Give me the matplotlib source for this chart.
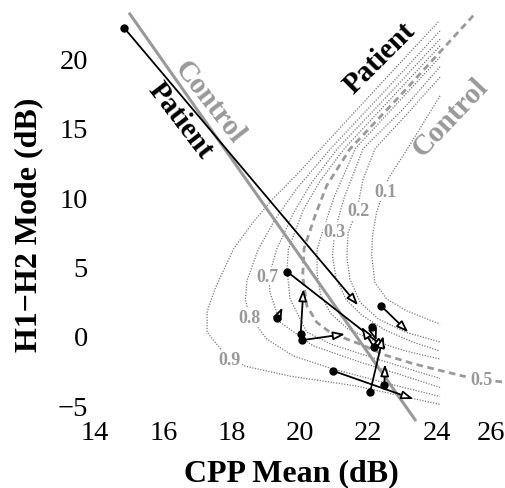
import matplotlib.pyplot as plt
import numpy as np

plt.rcParams['font.family'] = ['Liberation Serif', 'DejaVu Serif']

xTicks = [14, 16, 18, 20, 22, 24, 26]
yTicks = [-5, 0, 5, 10, 15, 20]

# probability contours (CPP mean, H1-H2 mode)
p1_cpp = [24.1, 23.65, 23.2, 22.58, 22.24, 22.12, 22.1, 22.19, 22.54, 23.12, 24.1]
p1_h12 = [17.3, 15.5, 13.7, 11.3, 8.9, 7.2, 5.77, 3.85, 2.65, 1.8, 0.84]
p2_cpp = [24.1, 23.1, 22.2, 21.85, 21.66, 21.41, 21.37, 21.46, 21.76, 22.3, 23.1, 24.1]
p2_h12 = [18.65, 15.9, 13.5, 11.3, 9.0, 7.45, 5.77, 4.09, 2.41, 1.2, 0.25, -0.45]
p3_cpp = [24.1, 23.0, 21.85, 21.3, 21.02, 20.95, 21.05, 21.35, 21.8, 22.5, 23.3, 24.1]
p3_h12 = [19.4, 16.3, 13.5, 10.0, 7.55, 5.77, 4.2, 2.6, 1.5, 0.4, -0.45, -1.1]
p4_cpp = [24.1, 22.9, 21.62, 21.0, 20.7, 20.5, 20.5, 20.6, 20.9, 21.4, 22.2, 23.1, 24.1]
p4_h12 = [20.1, 16.9, 13.5, 10.0, 7.8, 6.24, 4.5, 3.0, 1.6, 0.5, -0.4, -1.1, -1.68]
p5_cpp = [25.07, 22.93, 21.46, 20.78, 20.44, 20.12, 20.08, 20.2, 20.49, 20.88, 21.37, 21.76,
          22.5, 23.3, 24.1, 24.85]
p5_h12 = [23.08, 17.31, 13.46, 10.82, 8.65, 6.3, 4.3, 2.16, 0.97, 0.25, -0.24, -0.6,
          -1.4, -2.0, -2.5, -2.95]
p5_tail_cpp = [25.72, 25.95]
p5_tail_h12 = [-3.27, -3.33]
p6_cpp = [24.1, 22.7, 21.3, 20.6, 20.1, 19.66, 19.62, 19.71, 20.2, 20.9, 21.9, 23.0, 24.1]
p6_h12 = [20.9, 17.2, 13.5, 11.2, 9.1, 6.24, 4.81, 2.65, 0.27, -0.6, -1.4, -2.25, -3.08]
p7_cpp = [24.1, 22.6, 21.1, 20.3, 19.8, 19.32, 19.09, 19.12, 19.41, 20.38, 21.76, 23.0, 24.1]
p7_h12 = [21.39, 17.4, 13.5, 10.9, 8.8, 6.24, 4.3, 3.15, 0.99, -0.72, -1.9, -2.85, -3.73]
p8_cpp = [24.1, 22.5, 20.9, 19.9, 19.25, 18.78, 18.45, 18.4, 18.54, 19.03, 19.8, 20.97, 22.5, 24.1]
p8_h12 = [21.99, 17.7, 13.5, 10.6, 8.3, 6.24, 4.0, 2.6, 1.35, -0.24, -1.45, -2.4, -3.4, -4.38]
p9_cpp = [24.05, 22.0, 19.9, 19.2, 18.6, 18.05, 17.51, 17.28, 17.28, 17.75, 18.39, 19.71, 21.67, 24.1]
p9_h12 = [22.64, 17.2, 11.6, 9.86, 8.1, 6.24, 3.37, 1.71, 0.27, -1.18, -2.19, -2.91, -3.63, -4.95]

labelText = ["0.1", "0.2", "0.3", "0.7", "0.8", "0.9", "0.5"]
labelCpp = [22.49, 21.7, 21.02, 19.06, 18.52, 17.95, 25.3]
labelH12 = [10.4, 9.0, 7.55, 4.3, 1.35, -1.7, -3.12]

# linear boundary
control_cpp = [15.02, 23.37]
control_h12 = [23.2, -6.06]

# patient change arrows: start -> end
startCpp = [14.86, 19.63, 19.34, 20.02, 20.07, 22.37, 22.11, 22.17, 22.05, 22.47, 20.96]
startH12 = [22.18, 4.61, 1.28, 0.12, -0.31, 2.16, 0.61, -0.84, -4.08, -3.55, -2.52]
endCpp = [21.7, 22.53, 19.49, 20.10, 21.32, 23.17, 22.24, 21.80, 22.44, 22.49, 23.32]
endH12 = [2.2, -0.96, 2.05, 3.37, 0.12, 0.25, -0.38, 0.65, 0.0, -2.04, -4.56]

fig = plt.figure(figsize=(5.06, 4.89), dpi=100)
ax = fig.add_axes([95 / 506, 69 / 489, 411 / 506, 415 / 489])
ax.set_xlim(14, 26.03)
ax.set_ylim(-6.0, 23.92)

dotted = dict(color="#7a7a7a", lw=0.9, ls=(0, (1, 1.2)), clip_on=False)
for cx, cy in [(p1_cpp, p1_h12), (p2_cpp, p2_h12), (p3_cpp, p3_h12), (p4_cpp, p4_h12),
               (p6_cpp, p6_h12), (p7_cpp, p7_h12), (p8_cpp, p8_h12), (p9_cpp, p9_h12)]:
    ax.plot(cx, cy, **dotted)

dashed = dict(color="#9a9a9a", lw=2.0, ls=(0, (2.4, 1.6)), clip_on=False)
ax.plot(p5_cpp, p5_h12, **dashed)
ax.plot(p5_tail_cpp, p5_tail_h12, **dashed)

for t, x, y in zip(labelText, labelCpp, labelH12):
    ax.text(x, y, t, color="#999999", fontsize=13, fontweight="bold", ha="center",
            va="center", bbox=dict(fc="white", ec="none", pad=0.5))

ax.plot(control_cpp, control_h12, color="#999999", lw=2.2, clip_on=False, zorder=3)

for x0, y0, x1, y1 in zip(startCpp, startH12, endCpp, endH12):
    ax.annotate("", xy=(x1, y1), xytext=(x0, y0),
                arrowprops=dict(arrowstyle="-|>,head_length=0.7,head_width=0.25",
                                fc="white", ec="black", lw=1.3, shrinkA=0, shrinkB=0),
                zorder=4)
ax.plot(startCpp, startH12, "o", color="black", ms=5, zorder=5, clip_on=False)

ax.text(17.34, 16.89, "Control", color="#999999", fontsize=21, fontweight="bold",
        rotation=-52, ha="center", va="center", rotation_mode="anchor")
ax.text(16.51, 15.57, "Patient", color="black", fontsize=21, fontweight="bold",
        rotation=-52.5, ha="center", va="center", rotation_mode="anchor")
ax.text(22.32, 20.07, "Patient", color="black", fontsize=21, fontweight="bold",
        rotation=45, ha="center", va="center", rotation_mode="anchor")
ax.text(24.41, 15.8, "Control", color="#999999", fontsize=21, fontweight="bold",
        rotation=46.6, ha="center", va="center", rotation_mode="anchor")

ax.set_xticks(xTicks)
ax.set_yticks(yTicks)
ax.tick_params(length=0, labelsize=20.5)
ax.tick_params(axis="x", pad=1)
ax.tick_params(axis="y", pad=5)
for s in ax.spines.values():
    s.set_visible(False)
ax.get_xticklabels()[-1].set_ha("right")

fig.text(291 / 506, 1 - 474 / 489, "CPP Mean (dB)", fontsize=23, fontweight="bold",
         ha="center", va="center")
fig.text(29 / 506, 1 - 225 / 489, "H1\u2212H2 Mode (dB)", fontsize=23, fontweight="bold",
         ha="center", va="center", rotation=90)

fig.savefig("out.png", dpi=100)
